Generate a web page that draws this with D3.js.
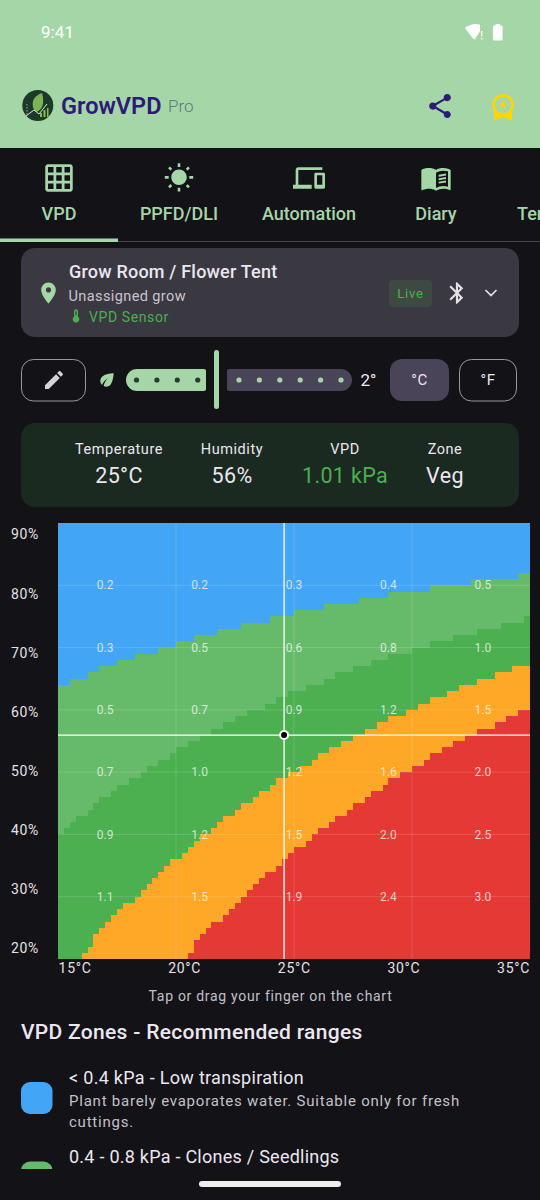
<!DOCTYPE html>
<html>
<head>
<meta charset="utf-8">
<script src="https://cdn.jsdelivr.net/npm/d3@7"></script>
<style>
  html, body { margin: 0; padding: 0; background: #121217; overflow: hidden; }
  svg { display: block; }
  text { font-family: Roboto, sans-serif; }
</style>
</head>
<body>
<div id="chart"></div>
<script>
// chart values
const tempTicks = [15, 20, 25, 30, 35];
const humidityTicks = [90, 80, 70, 60, 50, 40, 30, 20];
const gridTemps = [20, 25, 30];
const gridHumidity = [80, 70, 60, 50, 40, 30];

// quarter degree columns, 15 to 35 C
const columnTemps = d3.range(80).map(i => 15 + i * 0.25);

// top humidity row of each zone, one value per column (20 = zone not present)
const lightGreenTop = [
  64,64,65,65,65,66,66,67,67,67,68,68,68,69,69,69,69,70,70,70,
  71,71,71,72,72,72,72,73,73,73,73,74,74,74,74,74,75,75,75,75,
  76,76,76,76,76,77,77,77,77,77,77,78,78,78,78,78,79,79,79,79,
  79,79,79,80,80,80,80,80,80,80,81,81,81,81,81,81,81,81,82,82];
const greenTop = [
  40,41,42,43,43,44,45,46,46,47,48,48,49,49,50,51,51,52,52,53,
  54,54,55,55,56,56,57,57,58,58,59,59,60,60,60,61,61,62,62,63,
  63,63,64,64,64,65,65,66,66,66,67,67,67,68,68,68,69,69,69,69,
  70,70,70,71,71,71,71,72,72,72,72,73,73,73,73,74,74,74,74,75];
const orangeTop = [
  20,20,20,20,21,22,24,25,26,27,28,29,29,30,31,32,33,34,35,36,
  36,37,38,39,40,40,41,42,43,43,44,45,45,46,47,47,48,49,49,50,
  50,51,51,52,53,53,54,54,55,55,56,56,57,57,58,58,59,59,59,60,
  60,61,61,62,62,62,63,63,64,64,64,65,65,65,66,66,66,67,67,67];
const redTop = [
  20,20,20,20,20,20,20,20,20,20,20,20,20,20,20,20,20,20,20,20,
  20,20,21,23,24,25,26,26,27,28,29,30,31,32,33,34,34,35,36,37,
  38,38,39,40,41,41,42,43,43,44,45,45,46,47,47,48,49,49,50,50,
  51,51,52,53,53,54,54,55,55,56,56,57,57,57,58,58,59,59,60,60];

const zoneColors = ["#42A5F5", "#66BB6A", "#4CAF50", "#FFA726", "#E53935"];

// VPD numbers printed on the chart
const labelTemps = [17, 21, 25, 29, 33];
const labelHumidity = [80, 70, 60, 50, 40, 30];
const vpdLabels = [
  ["0.2", "0.2", "0.3", "0.4", "0.5"],
  ["0.3", "0.5", "0.6", "0.8", "1.0"],
  ["0.5", "0.7", "0.9", "1.2", "1.5"],
  ["0.7", "1.0", "1.2", "1.6", "2.0"],
  ["0.9", "1.2", "1.5", "2.0", "2.5"],
  ["1.1", "1.5", "1.9", "2.4", "3.0"]
];

const cursorTemp = 24.58;
const cursorHumidity = 56;

const tabNames = ["VPD", "PPFD/DLI", "Automation", "Diary", "Ter"];
const statNames = ["Temperature", "Humidity", "VPD", "Zone"];
const statValues = ["25°C", "56%", "1.01 kPa", "Veg"];
const offsetDotsLeft = [0, 1, 2, 3];
const offsetDotsRight = [0, 1, 2, 3, 4, 5];

const ICONS = {
  grid: "M20 2H4c-1.1 0-2 .9-2 2v16c0 1.1.9 2 2 2h16c1.1 0 2-.9 2-2V4c0-1.1-.9-2-2-2zM8 20H4v-4h4v4zm0-6H4v-4h4v4zm0-6H4V4h4v4zm6 12h-4v-4h4v4zm0-6h-4v-4h4v4zm0-6h-4V4h4v4zm6 12h-4v-4h4v4zm0-6h-4v-4h4v4zm0-6h-4V4h4v4z",
  sun: "M6.76 4.84l-1.8-1.79-1.41 1.41 1.79 1.79 1.42-1.41zM4 10.5H1v2h3v-2zm9-9.95h-2V3.5h2V.55zm7.45 3.91l-1.41-1.41-1.79 1.79 1.41 1.41 1.79-1.79zm-3.21 13.7l1.79 1.8 1.41-1.41-1.8-1.79-1.4 1.4zM20 10.5v2h3v-2h-3zm-8-5c-3.31 0-6 2.69-6 6s2.69 6 6 6 6-2.69 6-6-2.69-6-6-6zm-1 16.95h2V19.5h-2v2.95zm-7.45-3.91l1.41 1.41 1.79-1.8-1.41-1.41-1.79 1.8z",
  devices: "M4 6h18V4H4c-1.1 0-2 .9-2 2v11H0v3h14v-3H4V6zm19 2h-6c-.55 0-1 .45-1 1v10c0 .55.45 1 1 1h6c.55 0 1-.45 1-1V9c0-.55-.45-1-1-1zm-1 9h-4v-7h4v7z",
  book: "M21 5c-1.11-.35-2.33-.5-3.5-.5-1.95 0-4.05.4-5.5 1.5-1.45-1.1-3.55-1.5-5.5-1.5S2.45 4.9 1 6v14.65c0 .25.25.5.5.5.1 0 .15-.05.25-.05C3.1 20.45 5.05 20 6.5 20c1.95 0 4.05.4 5.5 1.5 1.35-.85 3.8-1.5 5.5-1.5 1.65 0 3.35.3 4.75 1.05.1.05.15.05.25.05.25 0 .5-.25.5-.5V6c-.6-.45-1.25-.75-2-1zm0 13.5c-1.1-.35-2.3-.5-3.5-.5-1.7 0-4.15.65-5.5 1.5V8c1.35-.85 3.8-1.5 5.5-1.5 1.2 0 2.4.15 3.5.5v11.5zM14 9.6l5.5-.9v1.4l-5.5.9zM14 12.2l5.5-.9v1.4l-5.5.9zM14 14.8l5.5-.9v1.4l-5.5.9z",
  share: "M18 16.08c-.76 0-1.44.3-1.96.77L8.91 12.7c.05-.23.09-.46.09-.7s-.04-.47-.09-.7l7.05-4.11c.54.5 1.25.81 2.04.81 1.66 0 3-1.34 3-3s-1.34-3-3-3-3 1.34-3 3c0 .24.04.47.09.7L8.04 9.81C7.5 9.31 6.79 9 6 9c-1.66 0-3 1.34-3 3s1.34 3 3 3c.79 0 1.5-.31 2.04-.81l7.12 4.16c-.05.21-.08.43-.08.65 0 1.61 1.31 2.92 2.92 2.92 1.61 0 2.92-1.31 2.92-2.92s-1.31-2.92-2.92-2.92z",
  place: "M12 2C8.13 2 5 5.13 5 9c0 5.25 7 13 7 13s7-7.75 7-13c0-3.87-3.13-7-7-7zm0 9.5c-1.38 0-2.5-1.12-2.5-2.5s1.12-2.5 2.5-2.5 2.5 1.12 2.5 2.5-1.12 2.5-2.5 2.5z",
  edit: "M3 17.25V21h3.75L17.81 9.94l-3.75-3.75L3 17.25zM20.71 7.04c.39-.39.39-1.02 0-1.41l-2.34-2.34c-.39-.39-1.02-.39-1.41 0l-1.83 1.83 3.75 3.75 1.83-1.83z",
  bluetooth: "M17.71 7.71L12 2h-1v7.59L6.41 5 5 6.41 10.59 12 5 17.59 6.41 19 11 14.41V22h1l5.71-5.71-4.3-4.29 4.3-4.29zM13 5.83l1.88 1.88L13 9.59V5.83zm1.88 10.46L13 18.17v-3.76l1.88 1.88z",
  thermo: "M15 13V5c0-1.66-1.34-3-3-3S9 3.34 9 5v8c-1.21.91-2 2.37-2 4 0 2.76 2.24 5 5 5s5-2.24 5-5c0-1.63-.79-3.09-2-4zm-4-8c0-.55.45-1 1-1s1 .45 1 1h-1v1h1v2h-1v1h1v2h-2V5z",
  leaf: "M6.05 8.05c-2.73 2.73-2.73 7.15-.02 9.88 1.47-3.4 4.09-6.24 7.36-7.93-2.77 2.34-4.71 5.61-5.39 9.32 2.6 1.23 5.8.78 7.95-1.37C19.43 14.47 20 4 20 4S9.53 4.57 6.05 8.05z"
};

const BG = "#121217";
const MINT = "#A5D6A7";

const svg = d3.select("#chart").append("svg")
  .attr("width", 540)
  .attr("height", 1200);

function addText(parent, str, x, y, size, fill, opts) {
  opts = opts || {};
  return parent.append("text")
    .attr("x", x)
    .attr("y", y)
    .attr("dy", "0.35em")
    .attr("font-size", size)
    .attr("font-weight", opts.weight || 400)
    .attr("letter-spacing", opts.spacing || 0)
    .attr("text-anchor", opts.anchor || "start")
    .attr("fill", fill)
    .text(str);
}

function addIcon(parent, name, cx, cy, size, fill) {
  return parent.append("path")
    .attr("d", ICONS[name])
    .attr("transform", `translate(${cx - size / 2},${cy - size / 2}) scale(${size / 24})`)
    .attr("fill", fill);
}

svg.append("rect").attr("width", 540).attr("height", 1200).attr("fill", BG);

// ---- app bar
svg.append("rect").attr("width", 540).attr("height", 148).attr("fill", MINT);
addText(svg, "9:41", 41, 32, 17, "#fff", { spacing: 0.1 });
// wifi + battery
svg.append("path").attr("d", "M465 28 Q472 22.5 480 24.5 V31 L475.5 38.5 Q474.3 40 473 38.5 Z").attr("fill", "#fff");
svg.append("rect").attr("x", 481).attr("y", 31).attr("width", 1.4).attr("height", 5.5).attr("fill", "#fff");
svg.append("rect").attr("x", 481).attr("y", 38).attr("width", 1.4).attr("height", 1.6).attr("fill", "#fff");
svg.append("rect").attr("x", 493).attr("y", 25.5).attr("width", 9.5).attr("height", 15).attr("rx", 1.3).attr("fill", "#fff");
svg.append("rect").attr("x", 495.5).attr("y", 24).attr("width", 4.5).attr("height", 2).attr("fill", "#fff");

// logo
svg.append("circle").attr("cx", 37.8).attr("cy", 105.5).attr("r", 15.5).attr("fill", "#1C3A2A");
svg.append("path").attr("d", "M42 93 Q31 97 33 107 Q34 111 37 112 Q46 107 42 93 Z").attr("fill", "#7CB455");
svg.append("path").attr("d", "M26 116 L34 110 L39 114 L47 104").attr("fill", "none").attr("stroke", "#DCE7D0").attr("stroke-width", 1);
svg.append("path").attr("d", "M40 117 V113 H42 V117 Z M43.5 117 V110 H45.5 V117 Z M47 117 V108 H48.5 V117 Z").attr("fill", "#8DBB3C");
svg.append("path").attr("d", "M27 104 V115").attr("stroke", "#9DB59A").attr("stroke-width", 1).attr("stroke-dasharray", "1.5 1.5");

addText(svg, "GrowVPD", 61, 106, 23.5, "#2F1A78", { weight: 600 });
addText(svg, "Pro", 168, 106, 17, "#5A7D80", { weight: 300 });
addIcon(svg, "share", 440, 106, 29, "#2F1A78");

// badge
svg.append("path").attr("d", "M494 112 V120.5 L503 117 L512 120.5 V112 Z").attr("fill", "#FFD600");
svg.append("circle").attr("cx", 503).attr("cy", 105).attr("r", 9.6).attr("fill", MINT).attr("stroke", "#FFD600").attr("stroke-width", 2.6);
svg.append("path").attr("d", d3.symbol(d3.symbolStar, 26)()).attr("transform", "translate(503,105)").attr("fill", "#FFD600");

// ---- tabs
const tabCenters = [59, 179, 309, 436];
const tabIcons = ["grid", "sun", "devices", "book"];
const tabSizes = [33, 31, 32, 32];
tabIcons.forEach((name, i) => addIcon(svg, name, tabCenters[i], 178, tabSizes[i], MINT));
tabNames.forEach((name, i) => {
  if (i < 4) addText(svg, name, tabCenters[i], 214, 18, MINT, { anchor: "middle", weight: 500 });
  else addText(svg, name, 517, 214, 18, MINT, { weight: 500 });
});
svg.append("rect").attr("x", 0).attr("y", 241).attr("width", 540).attr("height", 1).attr("fill", "#49454F");
svg.append("rect").attr("x", 0).attr("y", 238.5).attr("width", 118).attr("height", 3.5).attr("fill", MINT);

// ---- room card
svg.append("rect").attr("x", 21).attr("y", 248).attr("width", 498).attr("height", 89).attr("rx", 14).attr("fill", "#3A3841");
addIcon(svg, "place", 48.5, 293, 25, MINT);
addText(svg, "Grow Room / Flower Tent", 69, 272, 18, "#ECE6F0", { weight: 500, spacing: 0.2 });
addText(svg, "Unassigned grow", 68.5, 296, 14.5, "#CAC4D0", { spacing: 0.4 });
addIcon(svg, "thermo", 76, 316, 16, "#4CAF50");
addText(svg, "VPD Sensor", 89, 317, 14, "#4CAF50", { spacing: 0.6 });
svg.append("rect").attr("x", 389).attr("y", 280).attr("width", 43).attr("height", 27).attr("rx", 4).attr("fill", "#3E4A41");
addText(svg, "Live", 410.5, 293, 13, "#4CAF50", { anchor: "middle", spacing: 0.8 });
addIcon(svg, "bluetooth", 457, 293, 26, "#E6E1E5");
svg.append("path").attr("d", "M485.5 290 L491 295.5 L496.5 290").attr("fill", "none").attr("stroke", "#E6E1E5").attr("stroke-width", 1.7);

// ---- leaf offset row
svg.append("rect").attr("x", 21.5).attr("y", 359.5).attr("width", 64).attr("height", 41.5).attr("rx", 12).attr("fill", "none").attr("stroke", "#9A979E");
addIcon(svg, "edit", 54, 380, 24, "#D5D2D8");
addIcon(svg, "leaf", 107, 380, 20, MINT);

svg.append("path").attr("d", "M204 369 Q206 369 206 371 V389 Q206 391 204 391 H137 A11 11 0 0 1 137 369 Z").attr("fill", MINT);
svg.append("path").attr("d", "M229 369 H341 A11 11 0 0 1 341 391 H229 Q227 391 227 389 V371 Q227 369 229 369 Z").attr("fill", "#4A4458");
svg.append("rect").attr("x", 214).attr("y", 350).attr("width", 5).attr("height", 59).attr("rx", 2.5).attr("fill", MINT);

svg.selectAll(".dotL").data(offsetDotsLeft).enter().append("circle")
  .attr("cx", d => 136.5 + d * 20.4).attr("cy", 380).attr("r", 2.6).attr("fill", "#2A3A2C");
svg.selectAll(".dotR").data(offsetDotsRight).enter().append("circle")
  .attr("cx", d => 239 + d * 20.4).attr("cy", 380).attr("r", 2.6).attr("fill", MINT);

addText(svg, "2°", 360.5, 380, 17, "#ECE6F0");
svg.append("rect").attr("x", 390).attr("y", 359).attr("width", 59).attr("height", 42).attr("rx", 12).attr("fill", "#4A4458");
addText(svg, "°C", 419.5, 380, 15, "#ECE6F0", { anchor: "middle", spacing: 0.6 });
svg.append("rect").attr("x", 459.5).attr("y", 359.5).attr("width", 57).attr("height", 41.5).attr("rx", 12).attr("fill", "none").attr("stroke", "#9A979E");
addText(svg, "°F", 488, 380, 15, "#ECE6F0", { anchor: "middle", spacing: 0.6 });

// ---- current reading card
svg.append("rect").attr("x", 21).attr("y", 423).attr("width", 498).attr("height", 84).attr("rx", 14).attr("fill", "#1B2A20");
const statCenters = [119, 232, 345, 445];
statNames.forEach((name, i) => {
  addText(svg, name, statCenters[i], 449, 14.5, "#ECE6F0", { anchor: "middle", spacing: 0.55 });
  addText(svg, statValues[i], statCenters[i], 475, 21.5, i === 2 ? "#4CAF50" : "#ECE6F0", { anchor: "middle", spacing: 0.35 });
});

// ---- heat map
const x = d3.scaleLinear().domain([15, 35]).range([58, 530]);
const y = d3.scaleLinear().domain([20, 90]).range([959, 523]);
const columnWidth = x(15.25) - x(15);

const zoneTops = [columnTemps.map(() => 90), lightGreenTop, greenTop, orangeTop, redTop];
const segments = [];
columnTemps.forEach((t, c) => {
  zoneTops.forEach((tops, z) => {
    const bottom = z < 4 ? zoneTops[z + 1][c] : 20;
    if (tops[c] > bottom) segments.push({ temp: t, top: tops[c], bottom: bottom, zone: z });
  });
});

const map = svg.append("g").attr("shape-rendering", "crispEdges");
map.selectAll("rect").data(segments).enter().append("rect")
  .attr("x", d => x(d.temp))
  .attr("y", d => y(d.top))
  .attr("width", columnWidth)
  .attr("height", d => y(d.bottom) - y(d.top))
  .attr("fill", d => zoneColors[d.zone]);

// grid
svg.append("g").selectAll("line").data(gridHumidity).enter().append("line")
  .attr("x1", x(15)).attr("x2", x(35))
  .attr("y1", d => y(d)).attr("y2", d => y(d))
  .attr("stroke", "#fff").attr("stroke-opacity", 0.15);
svg.append("g").selectAll("line").data(gridTemps).enter().append("line")
  .attr("y1", y(90)).attr("y2", y(20))
  .attr("x1", d => x(d)).attr("x2", d => x(d))
  .attr("stroke", "#fff").attr("stroke-opacity", 0.15);

// VPD numbers
labelHumidity.forEach((h, r) => {
  labelTemps.forEach((t, c) => {
    addText(svg, vpdLabels[r][c], x(t), y(h), 12, "#fff", { anchor: "middle" }).attr("fill-opacity", 0.72);
  });
});

// crosshair
svg.append("line").attr("x1", x(15)).attr("x2", x(35)).attr("y1", y(cursorHumidity) + 0.3).attr("y2", y(cursorHumidity) + 0.3)
  .attr("stroke", "#fff").attr("stroke-width", 1.3);
svg.append("line").attr("x1", x(cursorTemp)).attr("x2", x(cursorTemp)).attr("y1", y(90)).attr("y2", y(20))
  .attr("stroke", "#fff").attr("stroke-width", 1.3);
svg.append("circle").attr("cx", x(cursorTemp)).attr("cy", y(cursorHumidity) + 0.3).attr("r", 5).attr("fill", "#fff");
svg.append("circle").attr("cx", x(cursorTemp)).attr("cy", y(cursorHumidity) + 0.3).attr("r", 3).attr("fill", "#000");

// axes (tick labels are spaced inside the plot, not on the grid)
const yLabels = d3.scaleLinear().domain([20, 90]).range([948.5, 534.5]);
const yAxis = svg.append("g").attr("transform", "translate(39,0)")
  .call(d3.axisLeft(yLabels).tickValues(humidityTicks).tickSize(0).tickPadding(0).tickFormat(d => d + "%"));
const xLabels = d3.scaleLinear().domain([15, 35]).range([74.5, 513]);
const xAxis = svg.append("g").attr("transform", "translate(0,963)")
  .call(d3.axisBottom(xLabels).tickValues(tempTicks).tickSize(0).tickPadding(0).tickFormat(d => d + "°C"));
[yAxis, xAxis].forEach(a => {
  a.select(".domain").remove();
  a.selectAll("text")
    .attr("font-family", "Roboto, sans-serif")
    .attr("font-size", 14)
    .attr("letter-spacing", 0.7)
    .attr("fill", "#E6E1E5");
});

addText(svg, "Tap or drag your finger on the chart", 270.5, 996, 14, "#C4C0C8", { anchor: "middle", spacing: 0.7 });

// ---- zone legend
addText(svg, "VPD Zones - Recommended ranges", 21, 1032, 21, "#ECE6F0", { weight: 500, spacing: 0.3 });

svg.append("clipPath").attr("id", "listClip").append("rect").attr("width", 540).attr("height", 1169);
const list = svg.append("g").attr("clip-path", "url(#listClip)");
list.append("rect").attr("x", 21).attr("y", 1082).attr("width", 31.5).attr("height", 32).attr("rx", 9).attr("fill", zoneColors[0]);
list.append("rect").attr("x", 21).attr("y", 1161.5).attr("width", 31.5).attr("height", 32).attr("rx", 9).attr("fill", zoneColors[1]);

addText(svg, "< 0.4 kPa - Low transpiration", 69, 1078, 18, "#ECE6F0", { spacing: 0.3 });
addText(svg, "Plant barely evaporates water. Suitable only for fresh", 69, 1101, 15, "#C4C0C8", { spacing: 0.77 });
addText(svg, "cuttings.", 69, 1122, 15, "#C4C0C8", { spacing: 0.77 });
addText(svg, "0.4 - 0.8 kPa - Clones / Seedlings", 69, 1157, 18, "#ECE6F0", { spacing: 0.25 });

// nav pill
svg.append("rect").attr("x", 199).attr("y", 1181).attr("width", 142).attr("height", 6).attr("rx", 3).attr("fill", "#EDEDED");
</script>
</body>
</html>
